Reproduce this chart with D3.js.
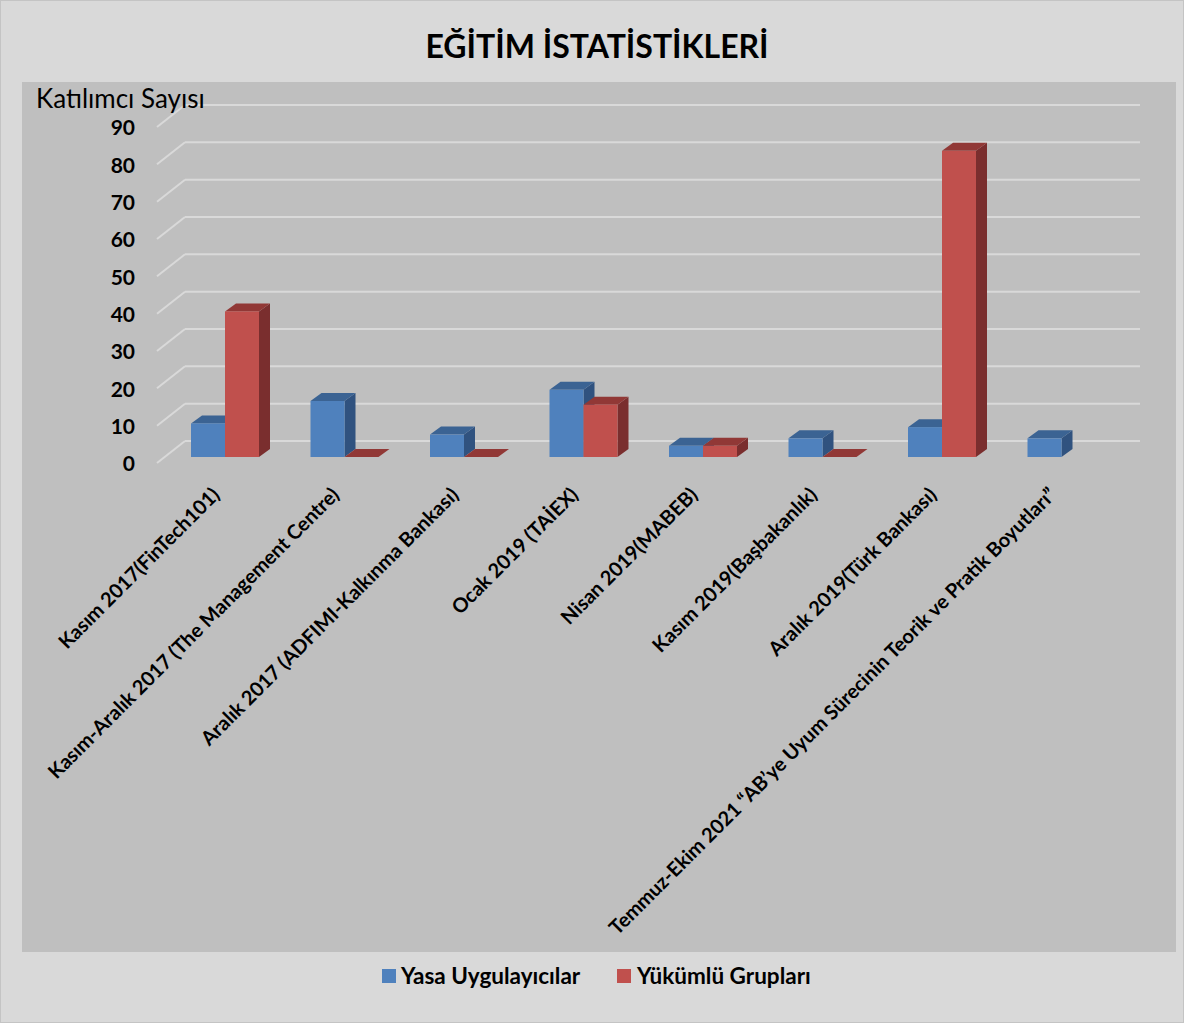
<!DOCTYPE html>
<html><head><meta charset="utf-8">
<script src="https://cdn.jsdelivr.net/npm/d3@7/dist/d3.min.js"></script>
<style>html,body{margin:0;padding:0;background:#d9d9d9;}svg{display:block;}</style>
</head><body>
<svg id="c" width="1184" height="1023"></svg>
<script>
const categories = [
  "Kasım 2017(FinTech101)",
  "Kasım-Aralık 2017 (The Management Centre)",
  "Aralık 2017 (ADFIMI-Kalkınma Bankası)",
  "Ocak 2019 (TAİEX)",
  "Nisan 2019(MABEB)",
  "Kasım 2019(Başbakanlık)",
  "Aralık 2019(Türk Bankası)",
  "Temmuz-Ekim 2021 “AB’ye Uyum Sürecinin Teorik ve Pratik Boyutları”"
];
const seriesNames = ["Yasa Uygulayıcılar", "Yükümlü Grupları"];
const yasaValues = [9, 15, 6, 18, 3, 5, 8, 5];
const yukumluValues = [39, 0, 0, 14, 3, 0, 82, null];
const yTicks = [0, 10, 20, 30, 40, 50, 60, 70, 80, 90];
const titleText = "EĞİTİM İSTATİSTİKLERİ";
const yAxisTitle = "Katılımcı Sayısı";

const colors = {
  front: ["#4f81bd", "#c0504d"],
  top: ["#3b6393", "#913836"],
  side: ["#30527f", "#7a2e2e"]
};

const svg = d3.select("#c");
const W = 1184, H = 1023;
const FONT = "Lato, 'Open Sans', sans-serif";

svg.append("rect").attr("x",0).attr("y",0).attr("width",W).attr("height",H).attr("fill","#d9d9d9");
svg.append("rect").attr("x",0.5).attr("y",0.5).attr("width",W-1).attr("height",H-1).attr("fill","none").attr("stroke","#c4c4c4").attr("stroke-width",1);
svg.append("rect").attr("x",22).attr("y",82).attr("width",1154).attr("height",870).attr("fill","#bfbfbf");

svg.append("text").attr("x",597).attr("y",58).attr("text-anchor","middle")
  .attr("font-family",FONT).attr("font-weight","bold").attr("font-size",32).attr("fill","#000").text(titleText);

const y = d3.scaleLinear().domain([0,90]).range([463,127]);
const depthX = 28, depthY = -22;
const barDx = 11, barDy = -8;
const barBase = -6;

const x0 = d3.scaleBand().domain(categories).range([165.25, 1121.25]).paddingInner(0.431).paddingOuter(0.2155);
const x1 = d3.scaleBand().domain(seriesNames).range([0, x0.bandwidth()]);

const grid = svg.append("g");
yTicks.forEach(v => {
  const yf = y(v), yb = y(v) + depthY;
  grid.append("line").attr("x1",157).attr("y1",yf).attr("x2",157+depthX).attr("y2",yb)
    .attr("stroke","#d9d9d9").attr("stroke-width",2);
  grid.append("line").attr("x1",157+depthX).attr("y1",yb).attr("x2",1140).attr("y2",yb)
    .attr("stroke","#d9d9d9").attr("stroke-width",2);
});

const yAxis = d3.axisLeft(y).tickValues(yTicks).tickSize(0).tickPadding(0);
const ga = svg.append("g").attr("transform","translate(135,0)").call(yAxis);
ga.select(".domain").remove();
ga.selectAll("text").attr("font-family",FONT).attr("font-weight","bold").attr("font-size",21).attr("fill","#000").attr("dy","0.38em");

svg.append("text").attr("x",36).attr("y",108).attr("font-family",FONT).attr("font-size",26).attr("fill","#000").text(yAxisTitle);

const data = categories.map((c,i) => ({cat:c, vals:[yasaValues[i], yukumluValues[i]]}));
const bars = svg.append("g");
const yb = v => y(v) + barBase;
data.forEach(d => {
  d.vals.forEach((v, si) => {
    if (v === null || v === undefined) return;
    const xl = x0(d.cat) + x1(seriesNames[si]);
    const w = x1.bandwidth();
    const yt = yb(v), ybot = yb(0);
    const g = bars.append("g");
    g.append("path").attr("d", `M${xl+w},${ybot} L${xl+w+barDx},${ybot+barDy} L${xl+w+barDx},${yt+barDy} L${xl+w},${yt} Z`)
      .attr("fill", colors.side[si]);
    g.append("path").attr("d", `M${xl},${yt} L${xl+barDx},${yt+barDy} L${xl+w+barDx},${yt+barDy} L${xl+w},${yt} Z`)
      .attr("fill", colors.top[si]);
    if (v > 0) g.append("rect").attr("x",xl).attr("y",yt).attr("width",w).attr("height",ybot-yt)
      .attr("fill", colors.front[si]);
  });
});

const xl = svg.append("g");
categories.forEach(c => {
  const cx = x0(c) + x0.bandwidth()/2;
  xl.append("text").attr("transform",`translate(${cx-4},${496}) rotate(-45)`)
    .attr("text-anchor","end").attr("font-family",FONT).attr("font-weight","bold").attr("font-size",20)
    .attr("fill","#000").text(c);
});

const leg = svg.append("g");
const legItems = [{x:382, tx:401}, {x:617, tx:637}];
seriesNames.forEach((s,i) => {
  leg.append("rect").attr("x",legItems[i].x).attr("y",969).attr("width",14).attr("height",14).attr("fill",colors.front[i]);
  leg.append("text").attr("x",legItems[i].tx).attr("y",984).attr("font-family",FONT).attr("font-weight","bold")
    .attr("font-size",22.5).attr("fill","#000").text(s);
});
</script>
</body></html>
